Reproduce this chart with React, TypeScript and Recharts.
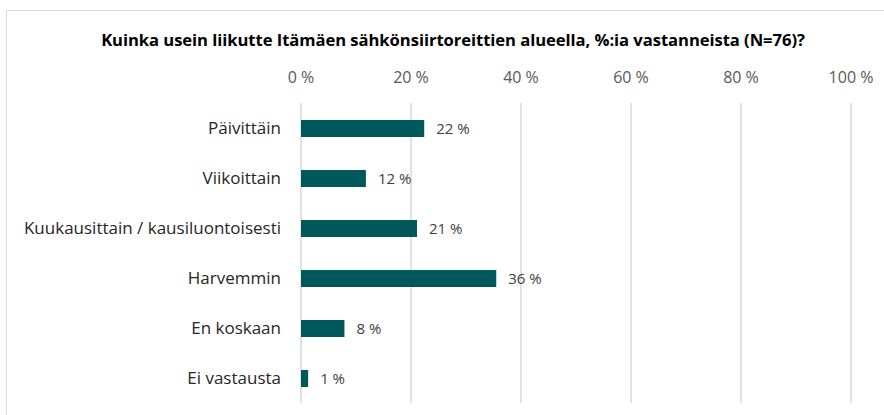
import { BarChart, Bar, XAxis, YAxis, CartesianGrid, LabelList } from 'recharts';

const CATEGORIES = [
  'Päivittäin',
  'Viikoittain',
  'Kuukausittain / kausiluontoisesti',
  'Harvemmin',
  'En koskaan',
  'Ei vastausta',
];

// shares (labels are rounded)
const SHARES = [22.4, 11.8, 21.1, 35.5, 7.9, 1.3];

const X_TICKS = [0, 20, 40, 60, 80, 100];

const TITLE = 'Kuinka usein liikutte Itämäen sähkönsiirtoreittien alueella, %:ia vastanneista (N=76)?';

const FONT = '"Open Sans", sans-serif';

export default function App() {
  const data = CATEGORIES.map((name, i) => ({ name, value: SHARES[i] }));

  return (
    <div style={{ position: 'absolute', left: 0, top: 0, width: 884, height: 415, background: '#fff', overflow: 'hidden', fontFamily: FONT }}>
      <div style={{ position: 'absolute', left: 6, top: 10, width: 900, height: 420, border: '1.5px solid #d9d9d9' }} />
      <div style={{ position: 'absolute', left: 0, width: 906, top: 28, textAlign: 'center', fontWeight: 700, fontSize: 16.6, color: '#000', letterSpacing: -0.05 }}>
        {TITLE}
      </div>
      <BarChart
        layout="vertical"
        width={884}
        height={415}
        data={data}
        margin={{ top: 0, right: 33, bottom: 12, left: 0 }}
        style={{ position: 'absolute', left: 0, top: 0 }}
      >
        <CartesianGrid horizontal={false} stroke="#d9d9d9" strokeWidth={1.5} />
        <XAxis
          type="number"
          orientation="top"
          domain={[0, 100]}
          ticks={X_TICKS}
          height={103}
          axisLine={false}
          tickLine={false}
          tickSize={0}
          tickMargin={20}
          tickFormatter={(v) => `${v} %`}
          tick={{ fill: '#595959', fontSize: 16, fontFamily: FONT }}
        />
        <YAxis
          type="category"
          dataKey="name"
          width={301}
          axisLine={false}
          tickLine={false}
          tickSize={0}
          tickMargin={20}
          tick={{ fill: '#262626', fontSize: 17, fontFamily: FONT }}
        />
        <Bar dataKey="value" fill="#00585c" barSize={17} isAnimationActive={false}>
          <LabelList
            dataKey="value"
            position="right"
            offset={12}
            formatter={(v: any) => `${Math.round(v)} %`}
            fill="#404040"
            fontSize={15}
            fontFamily={FONT}
          />
        </Bar>
      </BarChart>
    </div>
  );
}
